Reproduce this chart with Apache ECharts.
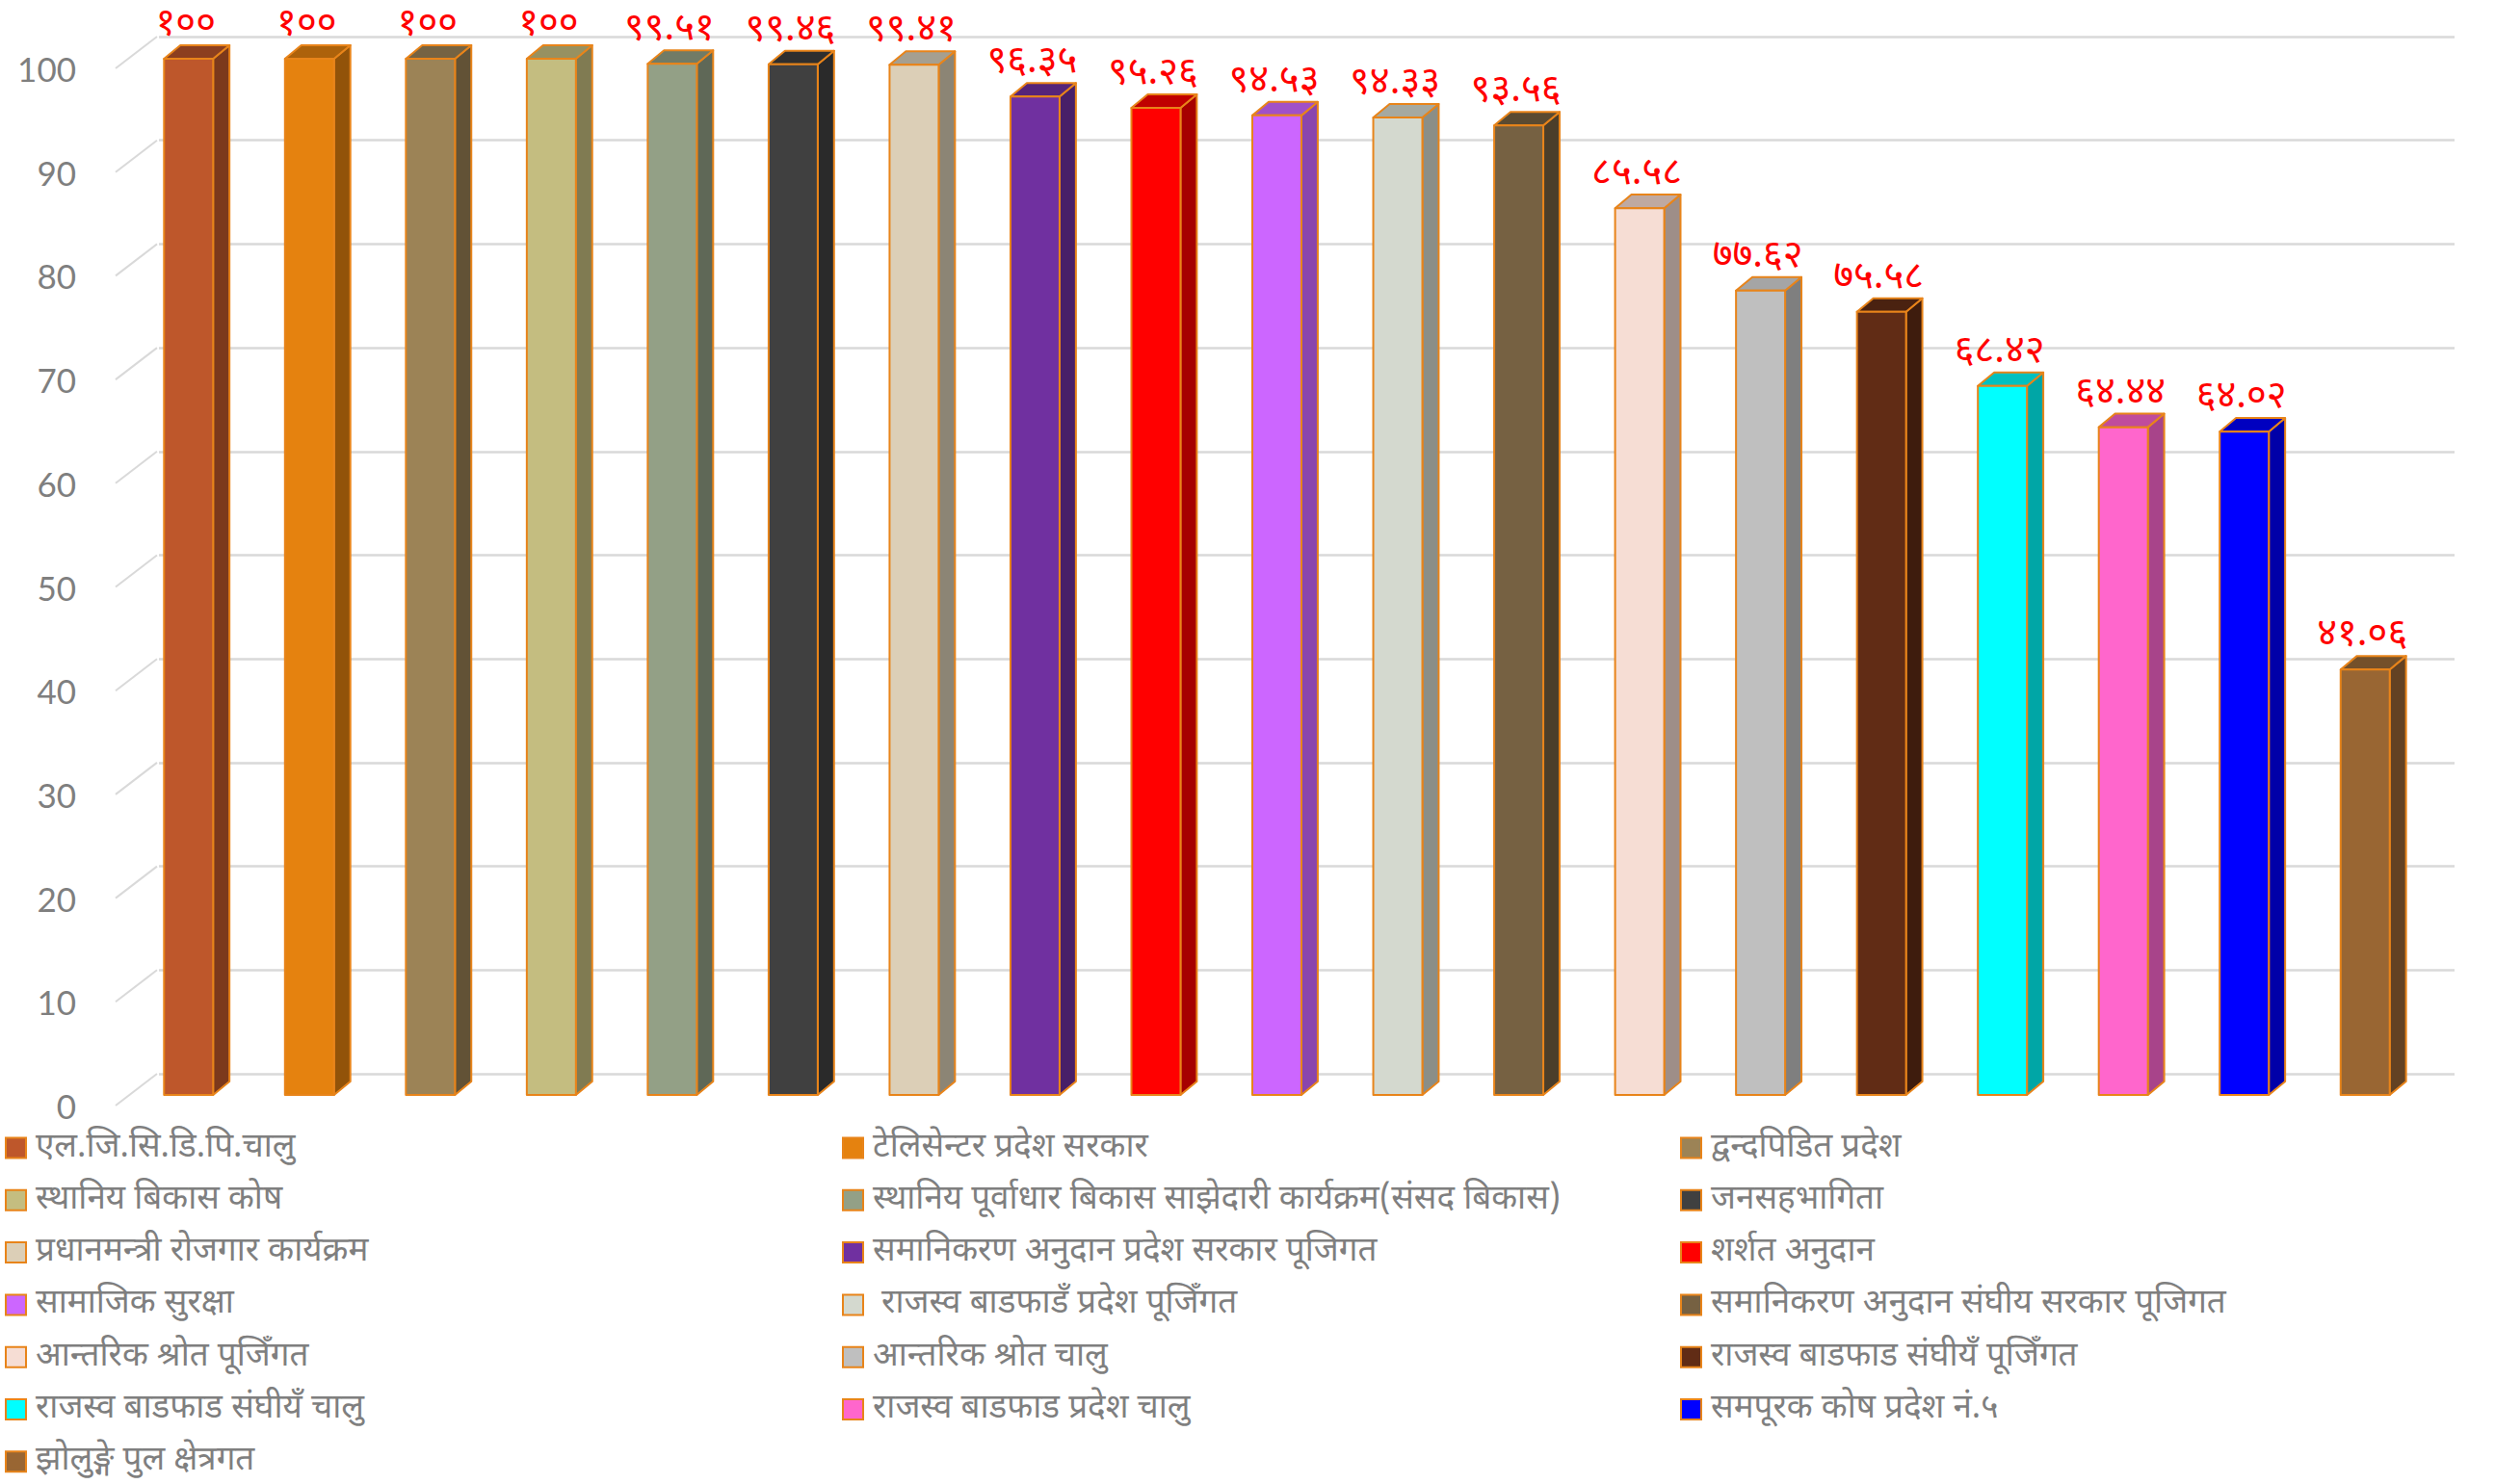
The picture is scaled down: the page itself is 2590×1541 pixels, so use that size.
<!DOCTYPE html>
<html><head><meta charset="utf-8">
<script src="https://cdn.jsdelivr.net/npm/echarts@6/dist/echarts.min.js"></script>
<style>html,body{margin:0;padding:0;background:#fff}#c{width:2590px;height:1541px}</style>
</head><body><div id="c"></div>
<script>
const categories = [
  'एल.जि.सि.डि.पि.चालु',
  'टेलिसेन्टर प्रदेश सरकार',
  'द्वन्दपिडित प्रदेश',
  'स्थानिय बिकास कोष',
  'स्थानिय पूर्वाधार बिकास साझेदारी कार्यक्रम(संसद बिकास)',
  'जनसहभागिता',
  'प्रधानमन्त्री रोजगार कार्यक्रम',
  'समानिकरण अनुदान प्रदेश सरकार पूजिगत',
  'शर्शत अनुदान',
  'सामाजिक सुरक्षा',
  ' राजस्व बाडफाडँ प्रदेश पूजिँगत',
  'समानिकरण अनुदान संघीय सरकार पूजिगत',
  'आन्तरिक श्रोत पूजिँगत',
  'आन्तरिक श्रोत चालु',
  'राजस्व बाडफाड संघीयँ पूजिँगत',
  'राजस्व बाडफाड संघीयँ चालु',
  'राजस्व बाडफाड प्रदेश चालु',
  'समपूरक कोष प्रदेश नं.५',
  'झोलुङ्गे पुल क्षेत्रगत'
];
const values = [100, 100, 100, 100, 99.51, 99.46, 99.41, 96.35, 95.26, 94.53, 94.33, 93.56, 85.58, 77.62, 75.58, 68.42, 64.44, 64.02, 41.06];
const frontColors = ['#BE572B','#E5820F','#9C8356','#C4BD80','#93A086','#404040','#DCCFB7','#7030A0','#FF0000','#CC66FF','#D4D9CF','#766142','#F6DDD4','#BFBFBF','#612C15','#00FFFF','#FF66CC','#0000FF','#996633'];
const sideColors  = ['#7C391C','#925309','#625236','#807B52','#5F6857','#2A2A2A','#8C8575','#481F68','#A60000','#8A45AD','#8B8E87','#4B3E2A','#9E8E88','#7F7F7F','#3E1C0D','#00A6A6','#A8448A','#0000A8','#634223'];
const topColors   = ['#8C3F1F','#AD620B','#756343','#979161','#717B66','#2F2F2F','#A59F90','#552479','#C00000','#A050C8','#A5A9A1','#5A4A31','#BFA9A1','#A5A5A5','#4A2210','#00C0C0','#C04C9C','#0000C0','#74502A'];
const yTicks = [0, 10, 20, 30, 40, 50, 60, 70, 80, 90, 100];

const EDGE = '#E8841A';
const DEVA = '०१२३४५६७८९';
const toDeva = v => String(v).replace(/[0-9]/g, d => DEVA[+d]);
const devFont = "'Noto Sans Devanagari','Lohit Devanagari','Mangal','FreeSans','Noto Sans',sans-serif";

function renderBar(params, api) {
  const i = api.value(0), v = api.value(1);
  const top = api.coord([i, v]);
  const base = api.coord([i, 0]);
  const band = api.size([1, 0])[0];
  const w = band * 0.406, dx = band * 0.135, dy = band * 0.112;
  const x0 = top[0] - w / 2, x1 = top[0] + w / 2;
  const yT = top[1], yB = base[1];
  const st = {stroke: EDGE, lineWidth: 2, lineJoin: 'round'};
  return {type: 'group', children: [
    {type: 'polygon', shape: {points: [[x1, yT], [x1 + dx, yT - dy], [x1 + dx, yB - dy], [x1, yB]]}, style: Object.assign({fill: sideColors[i]}, st)},
    {type: 'polygon', shape: {points: [[x0, yT], [x1, yT], [x1 + dx, yT - dy], [x0 + dx, yT - dy]]}, style: Object.assign({fill: topColors[i]}, st)},
    {type: 'rect', shape: {x: x0, y: yT, width: w, height: yB - yT}, style: Object.assign({fill: frontColors[i]}, st)},
    {type: 'text', style: {text: toDeva(v), x: top[0] - 3, y: yT - 35, align: 'center', verticalAlign: 'middle', fill: '#FF0000', fontSize: 40, lineHeight: 40, fontFamily: devFont}}
  ]};
}

const series = [{
  type: 'custom', xAxisIndex: 2, yAxisIndex: 2, silent: true, z: 1,
  data: yTicks.map(t => [0, t]),
  renderItem: (params, api) => {
    const y = api.coord([0, api.value(1)])[1];
    const x = params.coordSys.x;
    return {type: 'line', shape: {x1: x, y1: y, x2: x + 43, y2: y - 33}, style: {stroke: '#D9D9D9', lineWidth: 2}};
  }
}];
categories.forEach((name, i) => {
  series.push({
    type: 'custom', name: name, xAxisIndex: 0, yAxisIndex: 0, z: 3,
    itemStyle: {color: frontColors[i]},
    data: [[i, values[i]]],
    renderItem: renderBar
  });
});

const col = k => categories.filter((_, i) => i % 3 === k);
const legendBase = {
  orient: 'vertical', top: 1174, padding: 0, itemGap: 18.3, itemWidth: 21, itemHeight: 21, icon: 'rect',
  itemStyle: {borderColor: EDGE, borderWidth: 2},
  selectedMode: false,
  textStyle: {color: '#7F7F7F', fontSize: 35, fontFamily: devFont, lineHeight: 36, padding: [0, 0, 0, 5]}
};

const option = {
  backgroundColor: '#ffffff',
  animation: false,
  grid: [
    {left: 133, right: 72, top: 61, height: 1076},
    {left: 165, right: 42, top: 38, height: 1077},
    {left: 120, width: 50, top: 71, height: 1077}
  ],
  xAxis: [
    {gridIndex: 0, type: 'category', data: categories, show: false},
    {gridIndex: 1, type: 'value', min: 0, max: 1, show: false},
    {gridIndex: 2, type: 'value', min: 0, max: 1, show: false}
  ],
  yAxis: [
    {gridIndex: 0, type: 'value', min: 0, max: 100, interval: 10, show: false},
    {gridIndex: 1, type: 'value', min: 0, max: 100, interval: 10,
      axisLabel: {show: false}, axisLine: {show: false}, axisTick: {show: false},
      splitLine: {show: true, lineStyle: {color: '#D9D9D9', width: 2.5}}},
    {gridIndex: 2, type: 'value', min: 0, max: 100, interval: 10,
      axisLine: {show: false}, axisTick: {show: false}, splitLine: {show: false},
      axisLabel: {margin: 41, color: '#7F7F7F', fontSize: 35, fontFamily: 'Lato'}}
  ],
  legend: [
    Object.assign({left: 5, data: col(0)}, legendBase),
    Object.assign({left: 874, data: col(1)}, legendBase),
    Object.assign({left: 1744, data: col(2)}, legendBase)
  ],
  series: series
};

const chart = echarts.init(document.getElementById('c'), null, {renderer: 'svg'});
chart.setOption(option);
</script>
</body></html>
